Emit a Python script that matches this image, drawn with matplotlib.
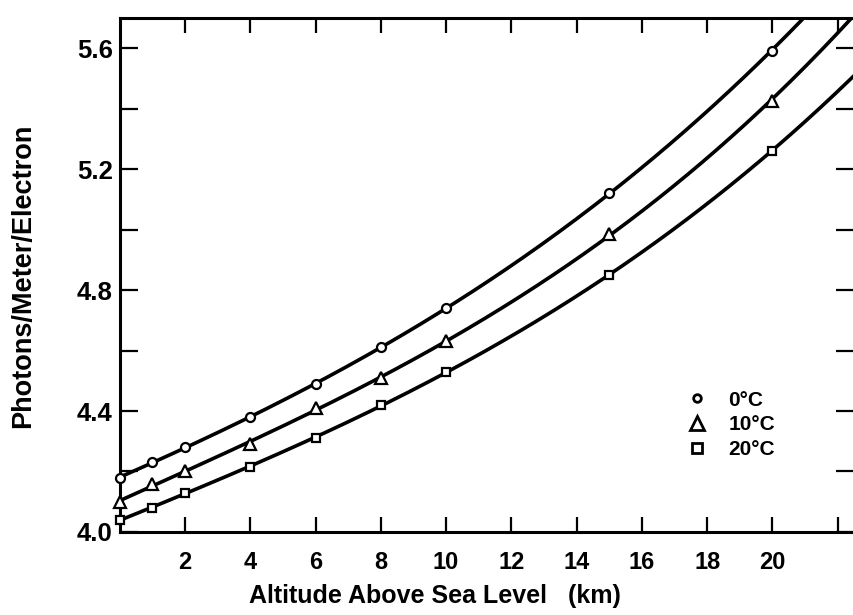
import matplotlib.pyplot as plt
import numpy as np
from matplotlib.ticker import MultipleLocator

plt.rcParams['font.family'] = ['Liberation Sans', 'DejaVu Sans']

# altitude (km) where the yield was computed
alt_km = [0, 1, 2, 4, 6, 8, 10, 15, 20]
# photons / meter / electron at 0, 10 and 20 deg C
y_0c = [4.18, 4.23, 4.28, 4.38, 4.49, 4.61, 4.74, 5.12, 5.59]
y_10c = [4.10, 4.16, 4.20, 4.29, 4.41, 4.51, 4.63, 4.985, 5.425]
y_20c = [4.04, 4.08, 4.13, 4.215, 4.31, 4.42, 4.53, 4.85, 5.26]
# where each curve runs out of the frame
end_x = [20.93, 22.4, 22.5]
end_y = [5.70, 5.70, 5.51]

labels = ['0°C', '10°C', '20°C']
markers = ['o', '^', 's']
msizes = [6.5, 9, 6.3]

fig = plt.figure(figsize=(8.54, 6.15), dpi=100)
ax = fig.add_axes([0.1403, 0.135, 0.8597, 0.836])

xs = np.linspace(0, 22.6, 300)
handles = []
for ys, ex, ey, m, ms, lab in zip([y_0c, y_10c, y_20c], end_x, end_y,
                                   markers, msizes, labels):
    # smooth curve through the computed points
    coef = np.polyfit(list(alt_km) + [ex], list(ys) + [ey], 3)
    ax.plot(xs, np.polyval(coef, xs), color='black', lw=2.6, zorder=2)
    ax.plot(alt_km, ys, linestyle='none', marker=m, ms=ms, mfc='white',
            mec='black', mew=1.6, zorder=3, clip_on=False)
    h, = ax.plot([], [], linestyle='none', marker=m,
                 ms={'o': 5.5, '^': 9.5, 's': 6.5}[m],
                 mfc='white', mec='black', mew=2.0)
    handles.append(h)

ax.set_xlim(0, 22.5)
ax.set_ylim(4.0, 5.70)

ax.set_xticks(range(2, 23, 2))
ax.set_xticklabels([str(v) for v in range(2, 21, 2)] + [''])
ax.yaxis.set_major_locator(MultipleLocator(0.4))
ax.yaxis.set_minor_locator(MultipleLocator(0.2))
ax.set_yticklabels([f'{v:.1f}' for v in ax.get_yticks()])

ax.tick_params(axis='x', which='both', direction='in', top=True,
               length=11, width=1.6, pad=14, labelsize=17)
ax.tick_params(axis='y', which='both', direction='in', right=True,
               length=13, width=1.6, pad=5, labelsize=18.5)
for t in ax.get_xticklabels() + ax.get_yticklabels():
    t.set_fontweight('bold')

ax.spines['right'].set_visible(False)
for s in ['left', 'bottom', 'top']:
    ax.spines[s].set_linewidth(2.2)

ax.set_xlabel('Altitude Above Sea Level   (km)', fontsize=18,
              fontweight='bold', va='center')
ax.xaxis.set_label_coords(0.429, -0.1245)
ax.set_ylabel('Photons/Meter/Electron', fontsize=19.5, fontweight='bold',
              va='center')
ax.yaxis.set_label_coords(-0.1318, 0.498)

leg = ax.legend(handles, labels, loc='center',
                bbox_to_anchor=(0.856, 0.309), bbox_transform=fig.transFigure,
                frameon=False, handlelength=1.0, handletextpad=1.0,
                labelspacing=0.28, prop={'size': 15, 'weight': 'bold'})

fig.savefig('out.png', dpi=100)
